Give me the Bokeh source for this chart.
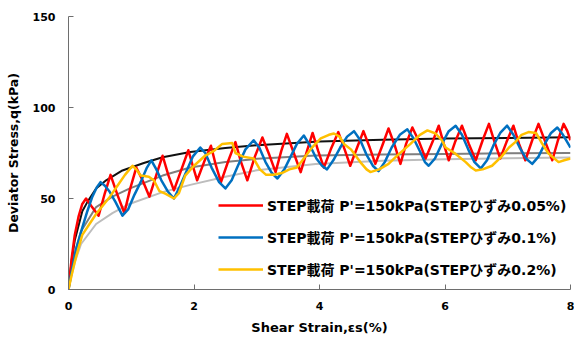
from bokeh.plotting import figure
from bokeh.models import Range1d, FixedTicker, Legend, LegendItem
from bokeh.embed import file_html
from bokeh.resources import INLINE

# ---- data ----
red_x = [0, 0.05, 0.10, 0.16, 0.22, 0.28, 0.36, 0.48, 0.58, 0.67, 0.78, 0.89, 0.98, 1.08, 1.18, 1.29,
         1.40, 1.50, 1.59, 1.68, 1.80, 1.91, 1.98, 2.05, 2.16, 2.27, 2.35, 2.43, 2.55, 2.66, 2.75, 2.85,
         2.97, 3.09, 3.20, 3.30, 3.39, 3.48, 3.59, 3.70, 3.80, 3.89, 3.98, 4.07, 4.18, 4.30, 4.40, 4.49,
         4.60, 4.70, 4.80, 4.89, 5.00, 5.10, 5.20, 5.29, 5.38, 5.48, 5.59, 5.69, 5.80, 5.90, 5.98, 6.06,
         6.16, 6.27, 6.38, 6.49, 6.60, 6.70, 6.79, 6.88, 6.98, 7.09, 7.18, 7.28, 7.39, 7.49, 7.60, 7.71,
         7.80, 7.89, 7.95, 8.0]
red_q = [0, 17, 30, 40, 47, 50, 46, 40.5, 53, 63, 52, 42, 55, 67, 60, 51,
         63, 73.5, 63, 54.5, 66, 76.5, 68, 60, 70, 79, 68, 59, 71, 81, 70, 60,
         73, 83.5, 74, 64.5, 76, 85.5, 75, 64.5, 76, 86, 76, 67, 77, 86.5, 77, 68,
         78, 87, 78, 69, 79, 88.5, 79, 69, 80, 89, 81, 72, 81, 90, 80, 71,
         81, 90, 80, 71, 82, 91, 81, 72, 81, 90, 80, 71, 82, 91, 81, 71,
         82, 91, 87, 82]

blue_x = [0, 0.05, 0.12, 0.22, 0.30, 0.38, 0.45, 0.51, 0.58, 0.65, 0.75, 0.86, 0.95, 1.05, 1.15, 1.25,
          1.32, 1.40, 1.48, 1.58, 1.68, 1.78, 1.88, 1.98, 2.10, 2.18, 2.28, 2.40, 2.50, 2.60, 2.70, 2.82,
          2.95, 3.04, 3.14, 3.24, 3.33, 3.44, 3.54, 3.64, 3.75, 3.85, 3.95, 4.04, 4.12, 4.22, 4.33, 4.44,
          4.55, 4.65, 4.75, 4.85, 4.94, 5.04, 5.15, 5.28, 5.40, 5.50, 5.60, 5.68, 5.74, 5.84, 5.95, 6.06,
          6.17, 6.27, 6.37, 6.47, 6.57, 6.67, 6.77, 6.88, 6.99, 7.09, 7.19, 7.29, 7.39, 7.49, 7.59, 7.69,
          7.79, 7.88, 8.0]
blue_q = [0, 10, 22, 34, 43, 51, 56, 59, 57, 54, 48, 40.6, 44, 52, 59, 67,
          71, 66, 60, 54, 50, 57, 65, 73, 78, 75, 67, 59, 55.5, 60, 68, 77,
          82, 78, 70, 64, 61, 66, 73, 80, 84.6, 79, 72, 68, 66, 71, 78, 84,
          87, 82, 74, 68, 65, 70, 78, 85, 88, 83, 76, 70, 68, 72, 80, 87,
          90, 85, 77, 70, 66.5, 71, 79, 86, 90, 85, 78, 72, 69, 73, 80, 86,
          89, 85, 78]

yellow_x = [0, 0.05, 0.12, 0.22, 0.44, 0.65, 0.78, 0.90, 1.02, 1.08, 1.15, 1.28, 1.36, 1.45, 1.55, 1.68,
            1.76, 1.86, 2.00, 2.18, 2.31, 2.45, 2.61, 2.66, 2.78, 2.95, 3.05, 3.15, 3.27, 3.40, 3.52, 3.64,
            3.75, 3.88, 4.02, 4.15, 4.23, 4.32, 4.39, 4.50, 4.65, 4.75, 4.81, 4.95, 5.10, 5.25, 5.35, 5.45,
            5.60, 5.72, 5.85, 5.95, 6.01, 6.15, 6.33, 6.42, 6.49, 6.60, 6.75, 6.90, 7.02, 7.12, 7.22, 7.33,
            7.45, 7.55, 7.65, 7.81, 7.90, 8.0]
yellow_q = [0, 8, 18, 30, 41.5, 50.5, 57, 63, 68, 66, 62.6, 62, 60, 54, 52.5, 50,
            53, 62.6, 68, 73.6, 76, 80, 80.5, 75, 73, 72, 66, 63, 63, 64, 66, 67,
            72, 78, 83, 85, 85.7, 84, 80, 77, 70, 66, 64.5, 66, 69, 74, 77, 80,
            85, 87.4, 85.7, 82, 78, 75, 70, 67, 65.4, 66, 68, 73, 78, 81, 85, 86.5,
            86, 80, 74.7, 70, 71, 72]

black_x = [0, 0.05, 0.10, 0.22, 0.30, 0.44, 0.60, 0.86, 1.2, 1.5, 1.94, 2.5, 3.0, 4.0, 5.0, 6.0, 7.0, 8.0]
black_q = [0, 16, 27, 43, 48, 55.5, 60, 65.4, 69.5, 72.7, 75.5, 77.8, 79.3, 81.3, 82.3, 82.9, 83.3, 83.6]

dgrey_x = [0, 0.05, 0.10, 0.20, 0.44, 0.70, 0.97, 1.5, 1.94, 2.5, 3.0, 3.94, 5.0, 6.0, 7.0, 8.0]
dgrey_q = [0, 11, 20, 32, 45.3, 51, 55.4, 62.6, 67, 70, 71.8, 73.6, 74.2, 74.5, 74.8, 75]

lgrey_x = [0, 0.05, 0.10, 0.20, 0.44, 0.70, 0.97, 1.5, 1.94, 2.5, 3.0, 3.94, 5.0, 6.0, 7.0, 8.0]
lgrey_q = [0, 8, 15, 25, 36, 42, 47, 53.5, 57.5, 62, 65.5, 69, 70.8, 71.6, 72.1, 72.5]

x_ticks = [0, 2, 4, 6, 8]
y_ticks = [0, 50, 100, 150]
legend_labels = ["STEP載荷 P'=150kPa(STEPひずみ0.05%)",
                 "STEP載荷 P'=150kPa(STEPひずみ0.1%)",
                 "STEP載荷 P'=150kPa(STEPひずみ0.2%)"]

p = figure(width=574, height=338, output_backend="svg", toolbar_location=None,
           x_range=Range1d(0, 8), y_range=Range1d(0, 150))
p.min_border_left = 68
p.min_border_right = 4
p.min_border_top = 16
p.min_border_bottom = 49
p.outline_line_color = None
p.xgrid.visible = False
p.ygrid.visible = False
p.background_fill_color = "white"
p.border_fill_color = "white"

axis_font = "DejaVu Sans"
for ax in (p.xaxis[0], p.yaxis[0]):
    ax.axis_line_color = "#6e6e6e"
    ax.major_tick_line_color = "#6e6e6e"
    ax.major_tick_in = 5
    ax.major_tick_out = 0
    ax.minor_tick_line_color = None
    ax.major_label_text_font = axis_font
    ax.major_label_text_font_style = "bold"
    ax.major_label_text_font_size = "11px"
    ax.major_label_text_color = "black"
    ax.axis_label_text_font = axis_font
    ax.axis_label_text_font_style = "bold"
    ax.axis_label_text_color = "black"
p.xaxis.axis_label_text_font_size = "13px"
p.yaxis.axis_label_text_font_size = "12.5px"

p.xaxis.ticker = FixedTicker(ticks=x_ticks)
p.yaxis.ticker = FixedTicker(ticks=y_ticks)
p.xaxis.axis_label = "Shear Strain,εs(%)"
p.yaxis.axis_label = "Deviator Stress,q(kPa)"
p.xaxis.major_label_standoff = 12
p.yaxis.major_label_standoff = 13
p.xaxis.axis_label_standoff = 7
p.yaxis.axis_label_standoff = 9

p.line(lgrey_x, lgrey_q, line_color="#bdbdbd", line_width=2, line_join="round")
p.line(dgrey_x, dgrey_q, line_color="#7f7f7f", line_width=2, line_join="round")
p.line(black_x, black_q, line_color="#111111", line_width=2, line_join="round")

r_red = p.line(red_x, red_q, line_color="#ff0000", line_width=2.5, line_join="round")
r_blue = p.line(blue_x, blue_q, line_color="#0070c0", line_width=2.5, line_join="round")
r_yel = p.line(yellow_x, yellow_q, line_color="#ffc000", line_width=2.5, line_join="round")

legend = Legend(items=[LegendItem(label=legend_labels[0], renderers=[r_red]),
                       LegendItem(label=legend_labels[1], renderers=[r_blue]),
                       LegendItem(label=legend_labels[2], renderers=[r_yel])],
                location=(150, 10))
legend.background_fill_alpha = 0
legend.border_line_alpha = 0
legend.padding = 0
legend.margin = 0
legend.spacing = 12
legend.glyph_width = 45
legend.glyph_height = 20
legend.label_height = 20
legend.label_standoff = 4
legend.label_text_font = "DejaVu Sans, Noto Sans CJK JP"
legend.label_text_font_style = "bold"
legend.label_text_font_size = "14px"
legend.label_text_color = "black"
p.add_layout(legend, "center")

open("out.html", "w").write(file_html(p, INLINE))
